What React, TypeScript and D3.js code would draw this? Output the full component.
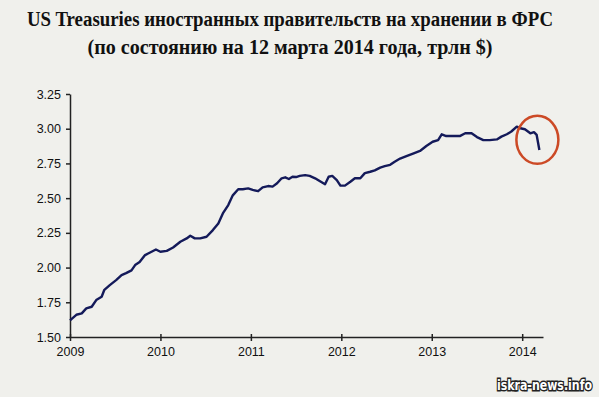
import * as d3 from "d3";
import { useEffect, useRef } from "react";

// decimal year -> trillions of $
const years = [
  2009.0, 2009.07, 2009.13, 2009.18, 2009.24, 2009.29, 2009.35, 2009.38, 2009.44, 2009.51,
  2009.57, 2009.62, 2009.68, 2009.72, 2009.77, 2009.83, 2009.88, 2009.95, 2010.0, 2010.07,
  2010.14, 2010.22, 2010.29, 2010.33, 2010.38, 2010.44, 2010.51, 2010.58, 2010.64, 2010.69,
  2010.75, 2010.8, 2010.86, 2010.91, 2010.97, 2011.02, 2011.08, 2011.13, 2011.19, 2011.24,
  2011.29, 2011.34, 2011.38, 2011.42, 2011.46, 2011.5, 2011.54, 2011.6, 2011.65, 2011.71,
  2011.76, 2011.82, 2011.86, 2011.9, 2011.95, 2011.99, 2012.04, 2012.1, 2012.15, 2012.21,
  2012.26, 2012.32, 2012.37, 2012.43, 2012.48, 2012.54, 2012.59, 2012.65, 2012.72, 2012.8,
  2012.87, 2012.94, 2013.01, 2013.07, 2013.11, 2013.16, 2013.24, 2013.31, 2013.37, 2013.44,
  2013.5, 2013.57, 2013.64, 2013.72, 2013.77, 2013.83, 2013.88, 2013.94, 2013.98, 2014.03,
  2014.09, 2014.13, 2014.16, 2014.19,
];
const holdings = [
  1.62, 1.66, 1.67, 1.706, 1.718, 1.766, 1.79, 1.84, 1.874, 1.91,
  1.946, 1.96, 1.98, 2.018, 2.04, 2.09, 2.107, 2.13, 2.114, 2.12,
  2.145, 2.186, 2.21, 2.229, 2.21, 2.21, 2.222, 2.27, 2.318, 2.39,
  2.45, 2.52, 2.564, 2.564, 2.57, 2.56, 2.55, 2.578, 2.587, 2.583,
  2.607, 2.643, 2.65, 2.638, 2.654, 2.652, 2.66, 2.666, 2.66, 2.643,
  2.623, 2.6, 2.654, 2.66, 2.63, 2.59, 2.59, 2.618, 2.643, 2.643,
  2.68, 2.69, 2.7, 2.72, 2.73, 2.74, 2.762, 2.785, 2.803, 2.823,
  2.84, 2.875, 2.906, 2.918, 2.96, 2.947, 2.947, 2.947, 2.967, 2.967,
  2.94, 2.918, 2.918, 2.923, 2.943, 2.96, 2.98, 3.015, 3.003, 2.996,
  2.967, 2.975, 2.955, 2.847,
];
const yTicks = [1.5, 1.75, 2.0, 2.25, 2.5, 2.75, 3.0, 3.25];
const xTicks = [2009, 2010, 2011, 2012, 2013, 2014];
const titleLines = [
  "US Treasuries иностранных правительств на хранении в ФРС",
  "(по состоянию на 12 марта 2014 года, трлн $)",
];
const watermark = "iskra-news.info";

export default function App() {
  const ref = useRef<SVGSVGElement>(null);

  useEffect(() => {
    const svg = d3.select(ref.current);
    svg.selectAll("*").remove();

    const width = 599;
    const height = 397;

    svg.append("rect").attr("width", width).attr("height", height).attr("fill", "#f0f0ec");

    const x = d3.scaleLinear().domain([2009, 2014.23]).range([70, 543]);
    const y = d3.scaleLinear().domain([1.5, 3.25]).range([337, 94]);

    // title
    svg.selectAll("text.title")
      .data(titleLines)
      .enter()
      .append("text")
      .attr("class", "title")
      .attr("x", 290)
      .attr("y", (d, i) => 26 + i * 28)
      .attr("text-anchor", "middle")
      .attr("textLength", (d, i) => (i === 0 ? 526 : 405))
      .attr("lengthAdjust", "spacingAndGlyphs")
      .style("font-family", "'Liberation Serif', serif")
      .style("font-weight", "bold")
      .style("font-size", "20px")
      .attr("fill", "#111")
      .text((d) => d);

    const xAxis = d3.axisBottom(x)
      .tickValues(xTicks)
      .tickFormat(d3.format("d"))
      .tickSize(4)
      .tickSizeOuter(0);
    const yAxis = d3.axisLeft(y)
      .tickValues(yTicks)
      .tickFormat(d3.format(".2f"))
      .tickSize(4)
      .tickSizeOuter(0);

    const gx = svg.append("g")
      .attr("transform", "translate(0," + y(1.5) + ")")
      .call(xAxis);
    gx.select(".domain").attr("stroke", "#222").attr("stroke-width", 1.5);
    gx.selectAll(".tick line").attr("stroke", "#222").attr("stroke-width", 1.5).attr("y1", -3);
    gx.selectAll("text")
      .attr("y", 10)
      .attr("fill", "#111")
      .style("font-family", "'Liberation Sans', Arial, sans-serif")
      .style("font-size", "12.5px");

    const gy = svg.append("g")
      .attr("transform", "translate(" + x(2009) + ",0)")
      .call(yAxis);
    gy.select(".domain").attr("stroke", "#222").attr("stroke-width", 1.5);
    gy.selectAll(".tick line").attr("stroke", "#222").attr("stroke-width", 1.5);
    gy.selectAll("text")
      .attr("x", -9)
      .attr("fill", "#111")
      .style("font-family", "'Liberation Sans', Arial, sans-serif")
      .style("font-size", "12.5px");

    const line = d3.line<number>()
      .x((d, i) => x(years[i]))
      .y((d) => y(d));

    svg.append("path")
      .datum(holdings)
      .attr("d", line)
      .attr("fill", "none")
      .attr("stroke", "#141a5a")
      .attr("stroke-width", 2.4)
      .attr("stroke-linejoin", "round");

    // highlight of the latest drop
    const last = holdings.length - 1;
    svg.append("ellipse")
      .attr("cx", x(years[last]) - 2)
      .attr("cy", y(2.92))
      .attr("rx", 21)
      .attr("ry", 24)
      .attr("fill", "none")
      .attr("stroke", "#cc4a26")
      .attr("stroke-width", 2.5);

    // site watermark, stretched vertically like the original blocky lettering
    svg.append("text")
      .attr("transform", "translate(592,390) scale(1,1.3)")
      .attr("text-anchor", "end")
      .style("font-family", "'DejaVu Sans', sans-serif")
      .style("font-weight", "bold")
      .style("font-size", "11px")
      .attr("fill", "#fff")
      .attr("stroke", "#222")
      .attr("stroke-width", 2.2)
      .attr("paint-order", "stroke")
      .text(watermark);
  }, []);

  return (
    <svg
      ref={ref}
      width={599}
      height={397}
      style={{ position: "absolute", left: 0, top: 0, display: "block" }}
    />
  );
}
